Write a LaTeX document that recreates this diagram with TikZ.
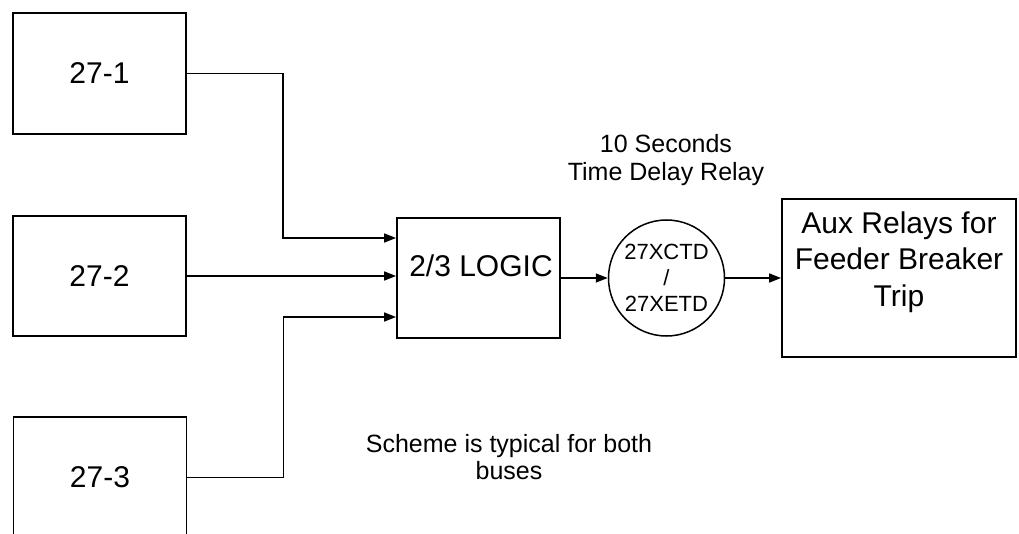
\documentclass[tikz,border=0pt]{standalone}
\usepackage{fontspec}
\setmainfont{Liberation Sans}
\usetikzlibrary{arrows.meta,calc}
\begin{document}
\begin{tikzpicture}[x=1pt,y=-1pt,
  blk/.style={draw,line width=1.8pt,inner sep=0pt,font=\fontsize{30}{36}\selectfont},
  relaycirc/.style={draw,circle,line width=1.5pt,inner sep=0pt,minimum size=116pt,align=center,font=\fontsize{22}{26}\selectfont},
  lbl/.style={inner sep=0pt,align=center},
  conn/.style={line width=1.6pt,-{Triangle[length=12pt,width=9pt]}},
  plain/.style={line width=1.6pt}]
\useasboundingbox[fill=white] (0,0) rectangle (1019,534);

\node[blk,minimum width=173pt,minimum height=121pt] (b1) at (99.5,73.5) {27-1};
\node[blk,minimum width=173pt,minimum height=120pt] (b2) at (99.5,276) {27-2};
\node[blk,minimum width=173pt,minimum height=121pt] (b3) at (100,477.5) {27-3};

\node[blk,minimum width=163pt,minimum height=120pt] (logic) at (478.5,278) {};
\node[lbl,font=\fontsize{30}{36}\selectfont] (logictxt) at (481,266) {2/3 LOGIC};

\node[relaycirc] (relay) at (666.5,278) {27XCTD\\/\\27XETD};

\node[blk,minimum width=234pt,minimum height=158pt] (aux) at (899,278) {};
\node[lbl,font=\fontsize{30}{36.5}\selectfont] (auxtxt) at (899,262) {Aux Relays for\\Feeder Breaker\\Trip};

\node[lbl,font=\fontsize{25}{28}\selectfont] (delay) at (666,160) {10 Seconds\\Time Delay Relay};
\node[lbl,font=\fontsize{25}{27}\selectfont] (note) at (509,457) {Scheme is typical for both\\buses};

\coordinate (in1) at ($(logic.west)+(0,-40)$);
\coordinate (in3) at ($(logic.west)+(0,39)$);

\draw[conn] (b1.east) -- ++(96,0) |- (in1);
\draw[conn] (b2.east) -- (logic.west |- b2.east);
\draw[conn] (b3.east) -- ++(96,0) |- (in3);
\draw[conn] (logic.east) -- (relay.west);
\draw[conn] (relay.east) -- (aux.west);
\end{tikzpicture}
\end{document}
